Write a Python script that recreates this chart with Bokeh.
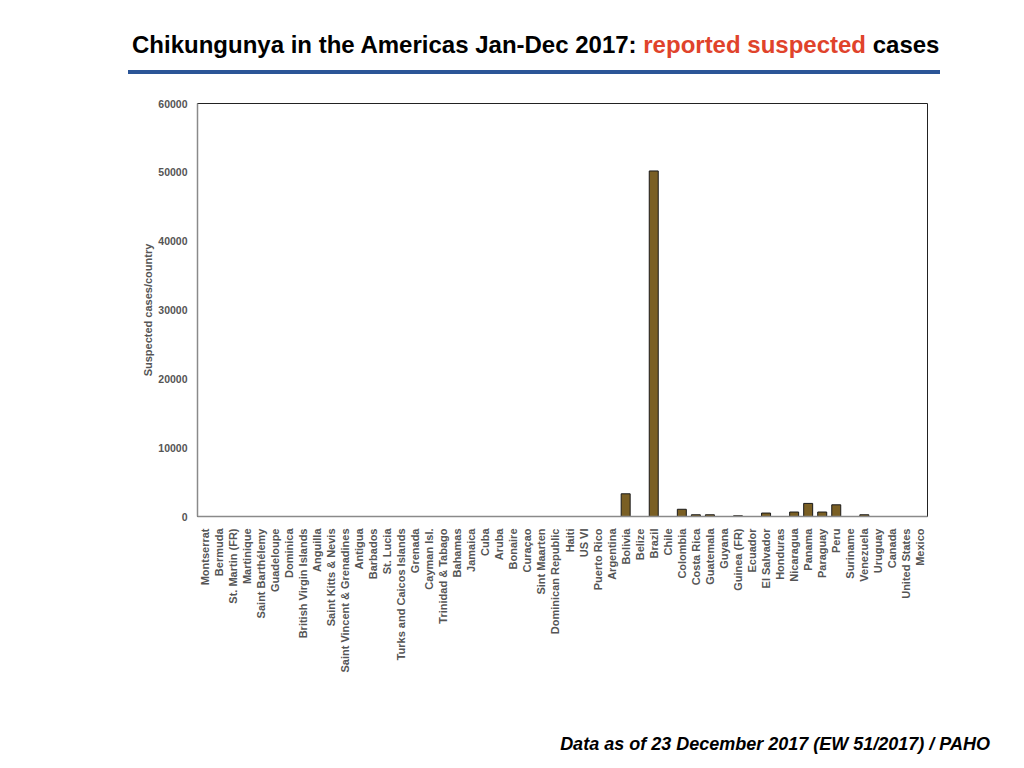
import math
from bokeh.plotting import figure
from bokeh.models import ColumnDataSource, FixedTicker, Div
from bokeh.layouts import column
from bokeh.embed import file_html
from bokeh.resources import INLINE

countries = ["Montserrat", "Bermuda", "St. Martin (FR)", "Martinique", "Saint Barthélemy",
             "Guadeloupe", "Dominica", "British Virgin Islands", "Anguilla", "Saint Kitts & Nevis",
             "Saint Vincent & Grenadines", "Antigua", "Barbados", "St. Lucia",
             "Turks and Caicos Islands", "Grenada", "Cayman Isl.", "Trinidad & Tabago", "Bahamas",
             "Jamaica", "Cuba", "Aruba", "Bonaire", "Curaçao", "Sint Maarten", "Dominican Republic",
             "Haiti", "US VI", "Puerto Rico", "Argentina", "Bolivia", "Belize", "Brazil", "Chile",
             "Colombia", "Costa Rica", "Guatemala", "Guyana", "Guinea (FR)", "Ecuador",
             "El Salvador", "Honduras", "Nicaragua", "Panama", "Paraguay", "Peru", "Suriname",
             "Venezuela", "Uruguay", "Canada", "United States", "Mexico"]
cases = [0, 0, 0, 0, 0,
         0, 0, 0, 0, 0,
         0, 0, 0, 0,
         0, 0, 0, 0, 0,
         0, 0, 0, 0, 0, 0, 0,
         0, 0, 0, 0, 3300, 0, 50200, 0,
         1050, 250, 250, 0, 100, 0,
         500, 0, 650, 1900, 650, 1700, 0,
         250, 0, 0, 0, 0]
y_ticks = [0, 10000, 20000, 30000, 40000, 50000, 60000]

title_black = "Chikungunya in the Americas Jan-Dec 2017: "
title_red = "reported suspected"
title_end = "cases"
footer = "Data as of 23 December 2017 (EW 51/2017) / PAHO"
y_label = "Suspected cases/country"

FONT = "Liberation Sans"
W = 1016

# ---- header (title + blue rule) ----
hdr_html = (
    '<div style="margin:29px 0 0 132px; font-family:\'Liberation Sans\'; font-weight:bold; '
    'font-size:24px; line-height:32px; white-space:nowrap; color:#000000;">'
    f'{title_black}<span style="color:#e0432b;">{title_red}</span> {title_end}</div>'
    '<div style="margin:9px 0 0 128px; width:812px; height:4px; background:#2b5597;"></div>'
)
hdr = Div(text=hdr_html, width=W, height=90, margin=0)

# ---- main chart ----
src = ColumnDataSource(dict(country=countries, cases=cases))
p = figure(x_range=countries, y_range=(0, 60000), width=W, height=610,
           frame_width=730, frame_height=413,
           min_border_left=197, min_border_right=89, min_border_top=13, min_border_bottom=184,
           output_backend="svg", toolbar_location=None, tools="")
p.vbar(x="country", top="cases", width=0.64, source=src,
       fill_color="#7a5f24", line_color="#1a1a1a", line_width=1)
p.xgrid.grid_line_color = None
p.ygrid.grid_line_color = None
p.outline_line_color = "#222222"
p.outline_line_width = 1

p.yaxis.ticker = FixedTicker(ticks=y_ticks)
p.yaxis.axis_label = y_label
p.yaxis.axis_label_text_font = FONT
p.yaxis.axis_label_text_font_style = "bold"
p.yaxis.axis_label_text_font_size = "11px"
p.yaxis.axis_label_text_color = "#555555"
p.yaxis.axis_label_standoff = 1
for ax in (p.xaxis[0], p.yaxis[0]):
    ax.major_tick_line_color = None
    ax.minor_tick_line_color = None
    ax.axis_line_color = "#8a8a8a"
    ax.axis_line_width = 1.5
    ax.major_label_text_font = FONT
    ax.major_label_text_font_style = "bold"
    ax.major_label_text_color = "#555555"
    ax.major_label_text_font_size = "11px"
p.yaxis.major_label_text_font_size = "10.5px"
p.yaxis.major_label_standoff = 4
p.xaxis.major_label_orientation = math.pi / 2
p.xaxis.major_label_standoff = 6

# ---- footer ----
ftr_html = (
    '<div style="margin:33px 0 0 0; width:990px; text-align:right; font-family:\'Liberation Sans\'; '
    'font-weight:bold; font-style:italic; font-size:18px; line-height:22px; white-space:nowrap; '
    f'color:#000000;">{footer}</div>'
)
ftr = Div(text=ftr_html, width=W, height=60, margin=0)

layout = column(hdr, p, ftr, spacing=0)
open("out.html", "w").write(file_html(layout, INLINE))
